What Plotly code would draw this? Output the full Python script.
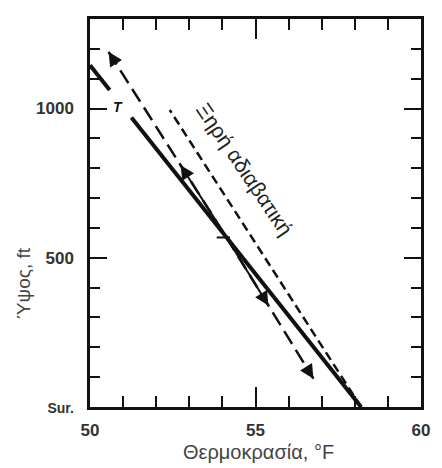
import numpy as np
import plotly.graph_objects as go

# ---- data ----
env_T = [58.19, 50.0]          # environmental temperature profile (°F)
env_z = [0, 1145]              # heights (ft)
env_gap_z = [970, 1062]        # gap in the line where the "T" label sits
label_T_pos = (50.86, 1005)

adiabat_T = [58.19, 52.41]     # dry adiabatic line
adiabat_z = [0, 995]

parcel_T = [50.56, 54.08, 56.75]   # displaced parcel path (dry adiabat through crossing)
parcel_z = [1190, 576, 95]
parcel_solid_z = [810, 340]        # ends of the solid (short) displacement arrows

x_ticks = [50, 55, 60]
y_tickvals = [0, 500, 1000]
y_ticktext = ["<span style='font-size:14px'>Sur.</span>", "500", "1000"]

x_title = "Θερμοκρασία, °F"
y_title = "Ύψος, ft"
adiabat_label = "Ξηρή αδιαβατική"

def env_at(z):
    return np.interp(z, env_z, env_T)

def parcel_at(z):
    zs = np.array(parcel_z[::-1]); ts = np.array(parcel_T[::-1])
    return np.interp(z, zs, ts)

fig = go.Figure()
black = "#111111"

# environment line (thick), split around label
lo = [0, env_gap_z[0]]
hi = [env_gap_z[1], env_z[1]]
for seg in (lo, hi):
    fig.add_trace(go.Scatter(x=[env_at(z) for z in seg], y=seg, mode="lines",
                             line=dict(color=black, width=4), hoverinfo="skip"))

# dry adiabat (short dashes)
fig.add_trace(go.Scatter(x=adiabat_T, y=adiabat_z, mode="lines",
                         line=dict(color=black, width=2.5, dash="9px,5px"), hoverinfo="skip"))

# parcel path (long dashes)
fig.add_trace(go.Scatter(x=parcel_T, y=parcel_z, mode="lines",
                         line=dict(color=black, width=2.5, dash="15px,7px"), hoverinfo="skip"))

# solid displacement segments
zc = parcel_z[1]
for zend in parcel_solid_z:
    fig.add_trace(go.Scatter(x=[parcel_at(zc), parcel_at(zend)], y=[zc, zend], mode="lines",
                             line=dict(color=black, width=2), hoverinfo="skip"))

# crossing mark
fig.add_trace(go.Scatter(x=[parcel_T[1] - 0.25, parcel_T[1] + 0.15], y=[parcel_z[1] - 8, parcel_z[1] - 8],
                         mode="lines", line=dict(color=black, width=2), hoverinfo="skip"))

# arrowheads
def arrow(zhead, zback):
    fig.add_annotation(x=float(parcel_at(zhead)), y=zhead, ax=float(parcel_at(zback)), ay=zback,
                       xref="x", yref="y", axref="x", ayref="y", text="", showarrow=True,
                       arrowhead=2, arrowsize=1.4, arrowwidth=2, arrowcolor=black, standoff=0)

arrow(parcel_z[0], parcel_z[0] - 30)
arrow(parcel_z[2], parcel_z[2] + 30)
arrow(parcel_solid_z[0], parcel_solid_z[0] - 30)
arrow(parcel_solid_z[1], parcel_solid_z[1] + 30)

# labels
fig.add_annotation(x=label_T_pos[0], y=label_T_pos[1], text="<i><b>T</b></i>", showarrow=False,
                   font=dict(family="Liberation Sans", size=14, color=black))
fig.add_annotation(x=54.68, y=795, text=adiabat_label, showarrow=False, textangle=56,
                   font=dict(family="Liberation Sans", size=21, color="#222"))
fig.add_annotation(x=0.51, y=-0.115, xref="paper", yref="paper", text=x_title, showarrow=False,
                   xanchor="center", yanchor="middle",
                   font=dict(family="Liberation Sans", size=20, color="#444"))
fig.add_annotation(x=-0.2, y=0.32, xref="paper", yref="paper", text=y_title, showarrow=False,
                   textangle=-90, xanchor="center", yanchor="middle",
                   font=dict(family="Liberation Sans", size=19, color="#444"))

fig.update_layout(
    width=442, height=468,
    margin=dict(l=89.5, r=16, t=19, b=61),
    plot_bgcolor="white", paper_bgcolor="white",
    showlegend=False,
    xaxis=dict(range=[50, 60], tickmode="array", tickvals=x_ticks,
               ticks="inside", ticklen=20, tickwidth=2, tickcolor=black,
               showline=True, linewidth=2.5, linecolor=black, mirror="ticks",
               showgrid=False, zeroline=False, ticklabelstandoff=6,
               tickfont=dict(family="Liberation Sans", size=17, color="#333", weight="bold"),
               minor=dict(tickvals=[51, 52, 53, 54, 56, 57, 58, 59], ticks="inside",
                          ticklen=11, tickwidth=2, tickcolor=black, showgrid=False)),
    yaxis=dict(range=[0, 1300], tickmode="array", tickvals=y_tickvals, ticktext=y_ticktext,
               ticks="inside", ticklen=17, tickwidth=2, tickcolor=black,
               showline=True, linewidth=2.5, linecolor=black, mirror="ticks",
               showgrid=False, zeroline=False, ticklabelstandoff=10,
               tickfont=dict(family="Liberation Sans", size=17, color="#333", weight="bold"),
               minor=dict(tickvals=[100, 200, 300, 400, 600, 700, 800, 900, 1100, 1200],
                          ticks="inside", ticklen=10, tickwidth=2, tickcolor=black, showgrid=False)),
)

fig.write_html("out.html")
